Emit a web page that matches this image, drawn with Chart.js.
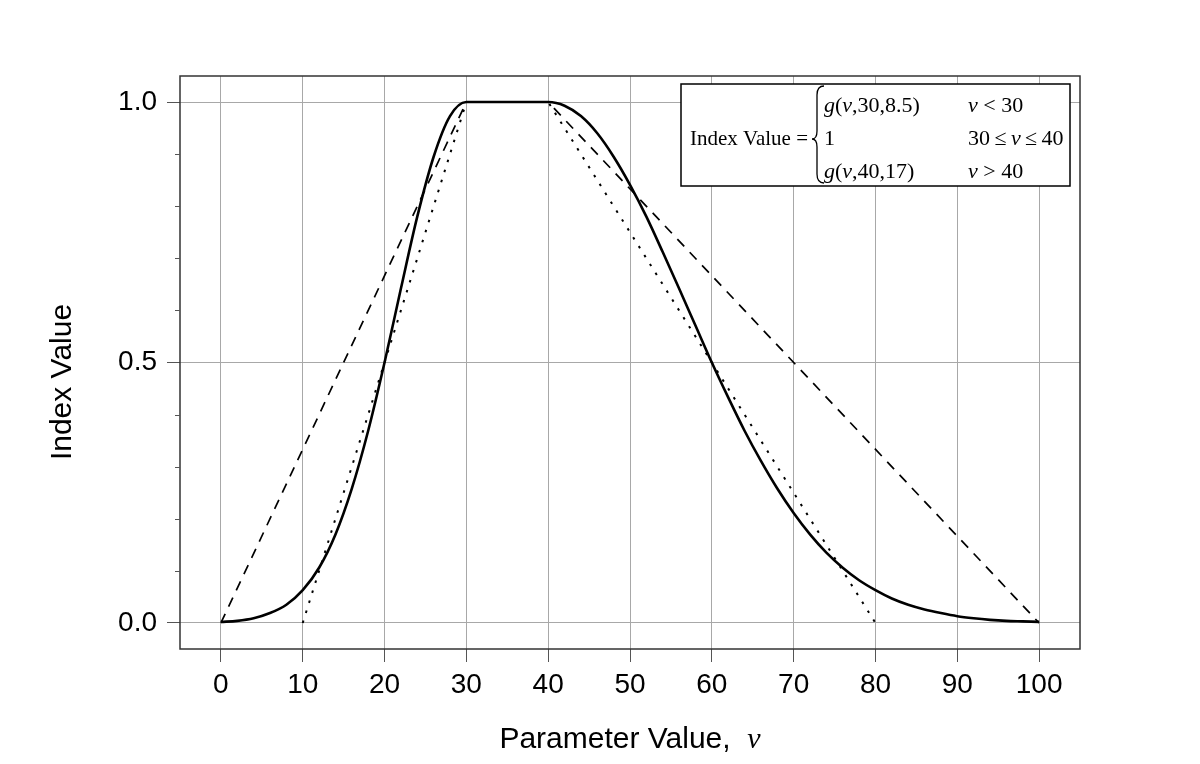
<!DOCTYPE html>
<html>
<head>
<meta charset="utf-8">
<script src="https://cdn.jsdelivr.net/npm/chart.js@4.4.1/dist/chart.umd.min.js"></script>
<style>
html,body{margin:0;padding:0;background:#fff;}
#wrap{width:1200px;height:764px;}
</style>
</head>
<body>
<div id="wrap"><canvas id="c" width="1200" height="764"></canvas></div>
<script>
// ---- data ----
const xTicks = [0, 10, 20, 30, 40, 50, 60, 70, 80, 90, 100];
const yTicks = [0, 0.5, 1.0];
const yMinorTicks = [0.1, 0.2, 0.3, 0.4, 0.6, 0.7, 0.8, 0.9];

// solid curve: index value
const curveV = [0, 2, 4, 6, 8, 10, 12, 14, 16, 18, 20, 22, 24, 26, 28, 30,
                40, 42, 44, 46, 48, 50, 52, 54, 56, 58, 60, 62, 64, 66, 68, 70,
                72, 74, 76, 78, 80, 82, 84, 86, 88, 90, 92, 94, 96, 98, 100];
const curveY = [0.002, 0.004, 0.009, 0.019, 0.035, 0.063, 0.106, 0.170, 0.258, 0.369, 0.500, 0.642, 0.780, 0.895, 0.973, 1.000,
                1.000, 0.993, 0.973, 0.940, 0.895, 0.841, 0.780, 0.712, 0.642, 0.571, 0.500, 0.433, 0.369, 0.311, 0.258, 0.211,
                0.170, 0.135, 0.106, 0.082, 0.063, 0.047, 0.035, 0.026, 0.019, 0.013, 0.009, 0.006, 0.004, 0.003, 0.002];

// dashed trapezoid
const dashedV = [0, 30, 40, 100];
const dashedY = [0, 1, 1, 0];

// dotted trapezoid
const dottedV = [10, 30, 40, 80];
const dottedY = [0, 1, 1, 0];

const xTitle = 'Parameter Value,';
const xTitleVar = 'v';
const yTitle = 'Index Value';

const toXY = (xs, ys) => xs.map((x, i) => ({x: x, y: ys[i]}));

const SANS = "'Liberation Sans', Arial, sans-serif";
const SERIF = "'Liberation Serif', 'Times New Roman', serif";

function drawRuns(ctx, x, y, runs, size) {
  let cx = x;
  runs.forEach(r => {
    ctx.font = (r.i ? 'italic ' : '') + size + 'px ' + SERIF;
    ctx.fillText(r.t, cx, y);
    cx += ctx.measureText(r.t).width;
  });
}

const decor = {
  id: 'decor',
  beforeDraw(chart) {
    const ctx = chart.ctx;
    ctx.save();
    ctx.fillStyle = '#fff';
    ctx.fillRect(0, 0, chart.width, chart.height);
    ctx.restore();
  },
  afterDraw(chart) {
    const ctx = chart.ctx;
    const a = chart.chartArea;
    const ys = chart.scales.y;
    ctx.save();
    // frame
    ctx.strokeStyle = '#333';
    ctx.lineWidth = 1.5;
    ctx.strokeRect(a.left, a.top, a.right - a.left, a.bottom - a.top);
    // minor y ticks
    ctx.strokeStyle = '#555';
    ctx.lineWidth = 1;
    yMinorTicks.forEach(v => {
      const py = Math.round(ys.getPixelForValue(v)) + 0.5;
      ctx.beginPath();
      ctx.moveTo(a.left - 5, py);
      ctx.lineTo(a.left, py);
      ctx.stroke();
    });
    // x title
    ctx.fillStyle = '#000';
    ctx.textBaseline = 'alphabetic';
    ctx.font = '30px ' + SANS;
    const w1 = ctx.measureText(xTitle + '  ').width;
    ctx.font = 'italic 30px ' + SERIF;
    const w2 = ctx.measureText(xTitleVar).width;
    const cx = (a.left + a.right) / 2;
    const sx = cx - (w1 + w2) / 2;
    ctx.font = '30px ' + SANS;
    ctx.textAlign = 'left';
    ctx.fillText(xTitle + '  ', sx, 748);
    ctx.font = 'italic 30px ' + SERIF;
    ctx.fillText(xTitleVar, sx + w1, 748);
    // y title
    ctx.save();
    ctx.translate(71, 382);
    ctx.rotate(-Math.PI / 2);
    ctx.textAlign = 'center';
    ctx.font = '30px ' + SANS;
    ctx.fillText(yTitle, 0, 0);
    ctx.restore();
    // formula box
    const bx = 681, by = 84, bw = 389, bh = 102;
    ctx.fillStyle = '#fff';
    ctx.fillRect(bx, by, bw, bh);
    ctx.strokeStyle = '#000';
    ctx.lineWidth = 1.5;
    ctx.strokeRect(bx, by, bw, bh);
    ctx.fillStyle = '#000';
    ctx.textAlign = 'left';
    ctx.textBaseline = 'alphabetic';
    const fs = 22;
    drawRuns(ctx, 690, 145, [{t: 'Index Value ='}], 21);
    // brace
    ctx.lineWidth = 1.3;
    ctx.beginPath();
    const tx = 824, bxl = 817, px = 812, yt = 86, ym = 139, yb = 183;
    ctx.moveTo(tx, yt);
    ctx.quadraticCurveTo(bxl, yt, bxl, yt + 9);
    ctx.lineTo(bxl, ym - 8);
    ctx.quadraticCurveTo(bxl, ym, px, ym);
    ctx.quadraticCurveTo(bxl, ym, bxl, ym + 8);
    ctx.lineTo(bxl, yb - 9);
    ctx.quadraticCurveTo(bxl, yb, tx, yb);
    ctx.stroke();
    const ts = '\u2009';
    drawRuns(ctx, 824, 112, [{t: 'g', i: 1}, {t: '('}, {t: 'v', i: 1}, {t: ',30,8.5)'}], fs);
    drawRuns(ctx, 824, 145, [{t: '1'}], fs);
    drawRuns(ctx, 824, 178, [{t: 'g', i: 1}, {t: '('}, {t: 'v', i: 1}, {t: ',40,17)'}], fs);
    drawRuns(ctx, 968, 112, [{t: 'v', i: 1}, {t: ' < 30'}], fs);
    drawRuns(ctx, 968, 145, [{t: '30' + ts + '\u2264' + ts}, {t: 'v', i: 1}, {t: ts + '\u2264' + ts + '40'}], fs);
    drawRuns(ctx, 968, 178, [{t: 'v', i: 1}, {t: ' > 40'}], fs);
    ctx.restore();
  }
};

new Chart(document.getElementById('c'), {
  type: 'line',
  data: {
    datasets: [
      {
        data: toXY(curveV, curveY),
        borderColor: '#000',
        borderWidth: 2.6,
        pointRadius: 0,
        cubicInterpolationMode: 'monotone',
        fill: false,
        order: 0
      },
      {
        data: toXY(dashedV, dashedY),
        borderColor: '#000',
        borderWidth: 1.7,
        borderDash: [10, 8],
        pointRadius: 0,
        tension: 0,
        fill: false,
        order: 1
      },
      {
        data: toXY(dottedV, dottedY),
        borderColor: '#000',
        borderWidth: 2,
        borderDash: [2.5, 8],
        pointRadius: 0,
        tension: 0,
        fill: false,
        order: 2
      }
    ]
  },
  options: {
    responsive: false,
    animation: false,
    events: [],
    layout: {padding: {top: 76, right: 120, left: 0, bottom: 0}},
    plugins: {legend: {display: false}, tooltip: {enabled: false}, title: {display: false}},
    scales: {
      x: {
        type: 'linear',
        min: -5,
        max: 105,
        afterBuildTicks: s => { s.ticks = xTicks.map(v => ({value: v})); },
        afterFit: s => { s.height = 115; },
        grid: {color: '#a8a8a8', lineWidth: 1, tickLength: 13, tickColor: '#555', drawTicks: true},
        border: {display: false},
        ticks: {
          color: '#000',
          font: {family: SANS, size: 28},
          padding: 6,
          maxRotation: 0,
          autoSkip: false
        },
        title: {display: false}
      },
      y: {
        type: 'linear',
        min: -0.05,
        max: 1.05,
        afterBuildTicks: s => { s.ticks = yTicks.map(v => ({value: v})); },
        afterFit: s => { s.width = 180; },
        grid: {color: '#a8a8a8', lineWidth: 1, tickLength: 13, tickColor: '#555', drawTicks: true},
        border: {display: false},
        ticks: {
          color: '#000',
          font: {family: SANS, size: 28},
          padding: 10,
          callback: v => v.toFixed(1)
        },
        title: {display: false}
      }
    }
  },
  plugins: [decor]
});
</script>
</body>
</html>
